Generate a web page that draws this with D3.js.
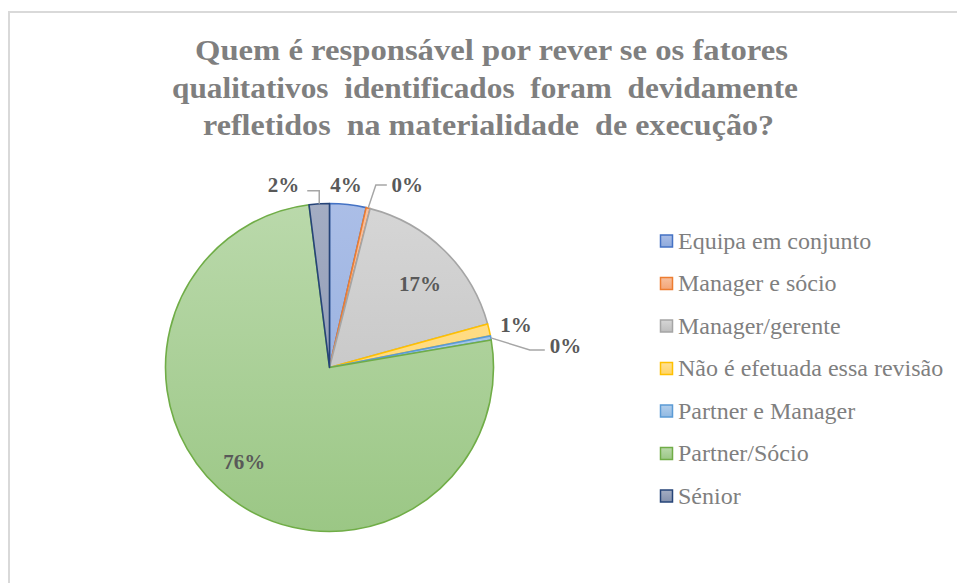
<!DOCTYPE html>
<html>
<head>
<meta charset="utf-8">
<script src="https://cdn.jsdelivr.net/npm/d3@7"></script>
<style>
  html, body { margin: 0; padding: 0; background: #fff; }
  svg { display: block; }
</style>
</head>
<body>
<svg id="chart" width="957" height="583"></svg>
<script>
// ---- data ----
const titleLines = [
  "Quem é responsável por rever se os fatores",
  "qualitativos  identificados  foram  devidamente",
  "refletidos  na materialidade  de execução?"
];
const categories = [
  "Equipa em conjunto",
  "Manager e sócio",
  "Manager/gerente",
  "Não é efetuada essa revisão",
  "Partner e Manager",
  "Partner/Sócio",
  "Sénior"
];
const counts = [9, 1, 42, 3, 1, 190, 5];

// ---- styles / layout (kept separate from data) ----
const FONT = "'Liberation Serif', 'DejaVu Serif', serif";
const strokeColors = ["#4472c4", "#ed7d31", "#a5a5a5", "#ffc000", "#5b9bd5", "#70ad47", "#264478"];
const fillTop      = ["#abbee7", "#f7c09e", "#d6d6d6", "#ffe196", "#b3cfec", "#bad9ab", "#a4adc3"];
const fillBottom   = ["#8eaadc", "#f4a577", "#bdbdbd", "#ffd466", "#91b9e2", "#9bc785", "#8491ad"];
const labelPlacement = [
  { type: "outside", dx: -2,    dy: -19.5, leader: null },
  { type: "outside", dx: 39.2,  dy: -23.2, leader: [[7.7, -23], [18.7, -23]] },
  { type: "inside",  rf: 0.745, dx: 5,  dy: 4 },
  { type: "outside", dx: 27,    dy: -5.2,  leader: null },
  { type: "outside", dx: 74.7,  dy: 8.1,   leader: [[39, 12], [54, 12]] },
  { type: "inside",  rf: 0.77,  dx: -10, dy: -7 },
  { type: "outside", dx: -35.7, dy: -18.8, leader: [[0, -13], [-12, -13]] }
];

const W = 957, H = 583;
const cx = 329.5, cy = 367.5, R = 164;

const svg = d3.select("#chart");

// frame
svg.append("rect")
  .attr("x", 9).attr("y", 12)
  .attr("width", W + 10).attr("height", H + 10)
  .attr("fill", "#fff")
  .attr("stroke", "#d9d9d9").attr("stroke-width", 2);

// title
const titleG = svg.append("g");
const titleBaselines = [60, 97.5, 135];
const titleSpans = [[195, 788], [172, 798], [203, 774]];
titleLines.forEach((t, i) => {
  titleG.append("text")
    .attr("x", titleSpans[i][0])
    .attr("y", titleBaselines[i])
    .attr("textLength", titleSpans[i][1] - titleSpans[i][0])
    .attr("lengthAdjust", "spacingAndGlyphs")
    .style("white-space", "pre")
    .attr("font-family", FONT)
    .attr("font-size", 30)
    .attr("font-weight", "bold")
    .attr("fill", "#7f7f7f")
    .text(t);
});

// gradients
const defs = svg.append("defs");
categories.forEach((c, i) => {
  const g = defs.append("linearGradient")
    .attr("id", "grad" + i)
    .attr("gradientUnits", "userSpaceOnUse")
    .attr("x1", 0).attr("y1", -R)
    .attr("x2", 0).attr("y2", R);
  g.append("stop").attr("offset", "0%").attr("stop-color", fillTop[i]);
  g.append("stop").attr("offset", "100%").attr("stop-color", fillBottom[i]);
  const lg = defs.append("linearGradient")
    .attr("id", "lgrad" + i)
    .attr("x1", 0).attr("y1", 0).attr("x2", 0).attr("y2", 1);
  lg.append("stop").attr("offset", "0%").attr("stop-color", fillTop[i]);
  lg.append("stop").attr("offset", "100%").attr("stop-color", fillBottom[i]);
});

// pie
const total = d3.sum(counts);
const pct = d3.format(".0%");
const pie = d3.pie().sort(null).value(d => d.v);
const arcs = pie(categories.map((c, i) => ({ c, v: counts[i], i })));
const arc = d3.arc().innerRadius(0).outerRadius(R);

const pieG = svg.append("g").attr("transform", `translate(${cx},${cy})`);
pieG.selectAll("path.slice")
  .data(arcs)
  .join("path")
  .attr("class", "slice")
  .attr("d", arc)
  .attr("fill", d => `url(#grad${d.data.i})`)
  .attr("stroke", d => strokeColors[d.data.i])
  .attr("stroke-width", 1.6)
  .attr("stroke-linejoin", "round");

// labels
const labelG = pieG.append("g");
arcs.forEach(d => {
  const p = labelPlacement[d.data.i];
  const mid = (d.startAngle + d.endAngle) / 2;
  let x, y;
  if (p.type === "inside") {
    const rr = R * p.rf;
    x = rr * Math.sin(mid) + p.dx;
    y = -rr * Math.cos(mid) + p.dy;
  } else {
    const ex = R * Math.sin(mid), ey = -R * Math.cos(mid);
    x = ex + p.dx; y = ey + p.dy;
    if (p.leader) {
      const pts = [[ex, ey]].concat(p.leader.map(q => [ex + q[0], ey + q[1]]));
      labelG.append("path")
        .attr("d", d3.line()(pts))
        .attr("fill", "none")
        .attr("stroke", "#a6a6a6")
        .attr("stroke-width", 1.5);
    }
  }
  labelG.append("text")
    .attr("x", x).attr("y", y)
    .attr("dy", "0.34em")
    .attr("text-anchor", "middle")
    .attr("font-family", FONT)
    .attr("font-size", 21)
    .attr("font-weight", "bold")
    .attr("fill", "#595959")
    .text(pct(d.data.v / total));
});

// legend
const legY0 = 241, legStep = 42.5;
const leg = svg.append("g");
const items = leg.selectAll("g.item")
  .data(categories)
  .join("g")
  .attr("class", "item")
  .attr("transform", (d, i) => `translate(660,${legY0 + i * legStep})`);
items.append("rect")
  .attr("x", 0.5).attr("y", -6)
  .attr("width", 12).attr("height", 12)
  .attr("fill", (d, i) => `url(#lgrad${i})`)
  .attr("stroke", (d, i) => strokeColors[i])
  .attr("stroke-width", 1.5);
items.append("text")
  .attr("x", 18).attr("y", 0)
  .attr("dy", "0.33em")
  .attr("font-family", FONT)
  .attr("font-size", 24)
  .attr("fill", "#7f7f7f")
  .text(d => d);
</script>
</body>
</html>
